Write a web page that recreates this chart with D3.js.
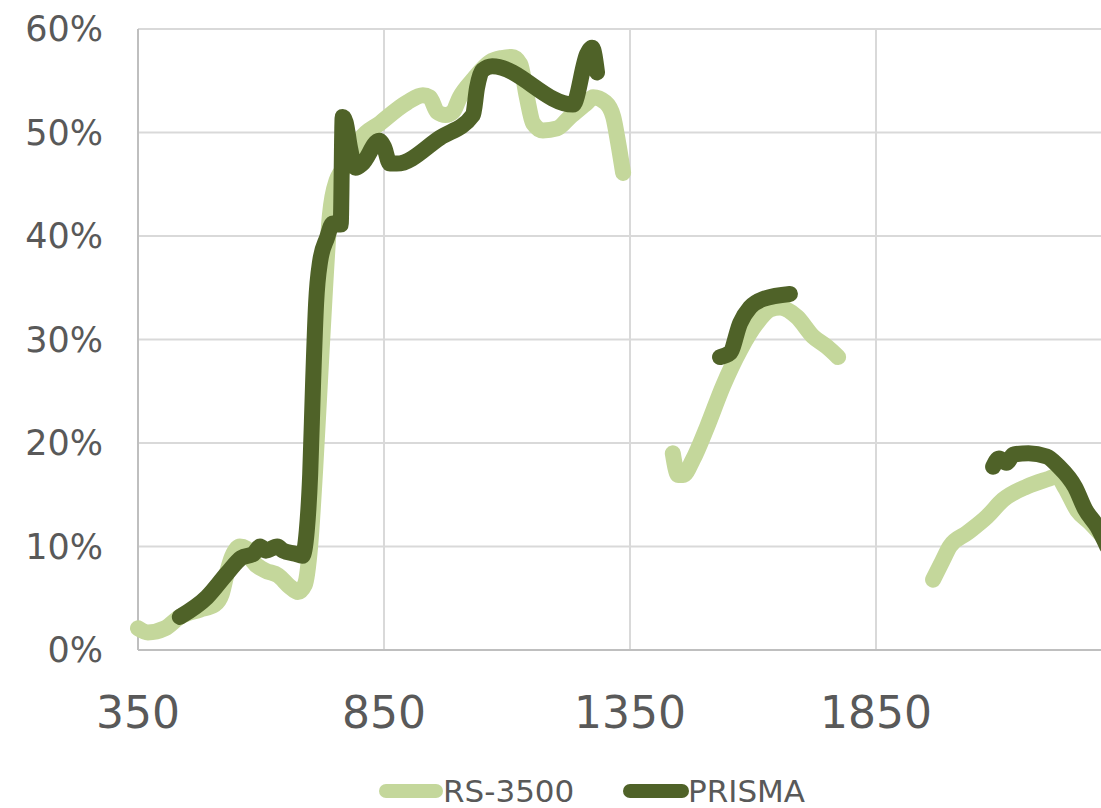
<!DOCTYPE html>
<html>
<head>
<meta charset="utf-8">
<script src="https://cdn.jsdelivr.net/npm/d3@7"></script>
<style>
  html, body { margin: 0; padding: 0; background: #fff; overflow: hidden; }
  svg { display: block; }
  text { font-family: "DejaVu Sans", sans-serif; fill: #595959; }
</style>
</head>
<body>
<svg id="chart" width="1101" height="808"></svg>
<script>
// ---- data (wavelength nm, reflectance %) ----
const seriesNames = ["RS-3500", "PRISMA"];

const rsSeg1 = [
  [350, 2.1], [370, 1.7], [405, 2.1], [435, 3.2], [476, 3.9], [506, 4.4],
  [520, 5.4], [530, 7.3], [541, 9.0], [557, 10.0], [570, 9.8], [583, 8.6], [608, 7.7],
  [635, 7.2], [659, 6.1], [675, 5.6], [689, 6.3], [700, 10.1], [710, 17.4],
  [720, 26.1], [730, 34.8], [740, 42.0], [754, 45.4], [775, 46.9], [801, 49.3],
  [842, 50.9], [897, 52.9], [929, 53.6], [943, 53.4], [958, 52.0], [975, 51.7], [990, 52.0],
  [1004, 53.4], [1031, 55.1], [1065, 56.8], [1090, 57.2], [1110, 57.3], [1127, 56.6],
  [1140, 53.5], [1153, 50.9], [1173, 50.2], [1202, 50.4], [1228, 51.5], [1263, 52.9],
  [1275, 53.4], [1300, 52.9], [1316, 51.5], [1326, 49.0], [1336, 46.1]
];
const rsSeg2 = [
  [1437, 19.0], [1448, 16.9], [1458, 16.9], [1478, 18.4], [1507, 21.6], [1539, 25.5],
  [1574, 29.0], [1608, 31.6], [1635, 32.9], [1655, 33.1], [1689, 32.2],
  [1722, 30.3], [1750, 29.3], [1773, 28.3]
];
const rsSeg3 = [
  [1966, 6.8], [1985, 8.6], [2000, 10.0], [2035, 11.3], [2076, 12.9],
  [2108, 14.5], [2157, 15.8], [2198, 16.5], [2218, 16.8], [2234, 15.7],
  [2259, 13.5], [2285, 12.3], [2320, 10.5]
];

const prSeg1 = [
  [435, 3.2], [490, 5.1], [531, 7.4], [560, 8.9], [585, 9.3], [598, 10.0],
  [610, 9.6], [633, 10.0], [645, 9.6], [670, 9.3], [684, 9.1], [693, 11.5],
  [700, 17.0], [706, 26.0], [712, 33.5], [720, 37.5], [734, 39.8],
  [746, 41.2], [762, 41.1], [766, 51.5], [772, 51.0], [781, 48.5], [792, 46.6],
  [806, 47.0], [840, 49.2], [850, 48.6], [862, 47.0], [876, 47.0], [964, 49.5],
  [1031, 51.7], [1039, 54.3], [1050, 56.0], [1070, 56.4], [1234, 52.7],
  [1263, 57.6], [1273, 58.2], [1283, 55.8]
];
const prSeg2 = [
  [1533, 28.3], [1553, 28.7], [1574, 31.6], [1594, 33.1], [1620, 33.9], [1675, 34.4]
];
const prSeg3 = [
  [2088, 17.7], [2100, 18.5], [2115, 18.1], [2130, 18.9], [2160, 19.0], [2197, 18.7],
  [2220, 17.8], [2255, 15.7], [2275, 13.6], [2300, 11.9], [2320, 10.0]
];

const xTicks = [350, 850, 1350, 1850];
const yTicks = [0, 10, 20, 30, 40, 50, 60];

// ---- drawing ----
const svg = d3.select("#chart");
const x = d3.scaleLinear().domain([350, 2350]).range([138, 1122]);
const y = d3.scaleLinear().domain([0, 60]).range([650, 29]);

const lightC = "#C4D79B", darkC = "#4F6228";

// horizontal gridlines
svg.append("g").selectAll("line").data(yTicks.filter(d => d > 0)).join("line")
  .attr("x1", x(350)).attr("x2", 1101)
  .attr("y1", d => y(d)).attr("y2", d => y(d))
  .attr("stroke", "#d9d9d9").attr("stroke-width", 2);

// vertical gridlines
svg.append("g").selectAll("line").data(xTicks.filter(d => d > 350)).join("line")
  .attr("x1", d => x(d)).attr("x2", d => x(d))
  .attr("y1", y(60)).attr("y2", y(0))
  .attr("stroke", "#d9d9d9").attr("stroke-width", 2);

// axes lines
svg.append("line").attr("x1", x(350)).attr("x2", x(350)).attr("y1", y(60)).attr("y2", y(0))
  .attr("stroke", "#bfbfbf").attr("stroke-width", 2);
svg.append("line").attr("x1", x(350)).attr("x2", 1101).attr("y1", y(0)).attr("y2", y(0))
  .attr("stroke", "#bfbfbf").attr("stroke-width", 2);

// y labels
svg.append("g").selectAll("text").data(yTicks).join("text")
  .attr("x", 103).attr("y", d => y(d))
  .attr("text-anchor", "end").attr("dominant-baseline", "central")
  .attr("font-size", 35)
  .text(d => d + "%");

// x labels
svg.append("g").selectAll("text").data(xTicks).join("text")
  .attr("x", d => x(d)).attr("y", 728)
  .attr("text-anchor", "middle")
  .attr("font-size", 44)
  .text(d => d);

const line = d3.line().x(d => x(d[0])).y(d => y(d[1])).curve(d3.curveMonotoneX);

const plot = svg.append("g");
[rsSeg1, rsSeg2, rsSeg3].forEach(seg => {
  plot.append("path").attr("d", line(seg)).attr("fill", "none")
    .attr("stroke", lightC).attr("stroke-width", 16)
    .attr("stroke-linecap", "round").attr("stroke-linejoin", "round");
});
[prSeg1, prSeg2, prSeg3].forEach(seg => {
  plot.append("path").attr("d", line(seg)).attr("fill", "none")
    .attr("stroke", darkC).attr("stroke-width", 16)
    .attr("stroke-linecap", "round").attr("stroke-linejoin", "round");
});

// legend
const legend = svg.append("g");
const items = [
  { name: seriesNames[0], color: lightC, x1: 386, x2: 436, tx: 443 },
  { name: seriesNames[1], color: darkC, x1: 630, x2: 682, tx: 688 }
];
items.forEach(it => {
  legend.append("line").attr("x1", it.x1).attr("x2", it.x2)
    .attr("y1", 791).attr("y2", 791)
    .attr("stroke", it.color).attr("stroke-width", 14).attr("stroke-linecap", "round");
  legend.append("text").attr("x", it.tx).attr("y", 791)
    .attr("dominant-baseline", "central").attr("font-size", 31)
    .text(it.name);
});
</script>
</body>
</html>
